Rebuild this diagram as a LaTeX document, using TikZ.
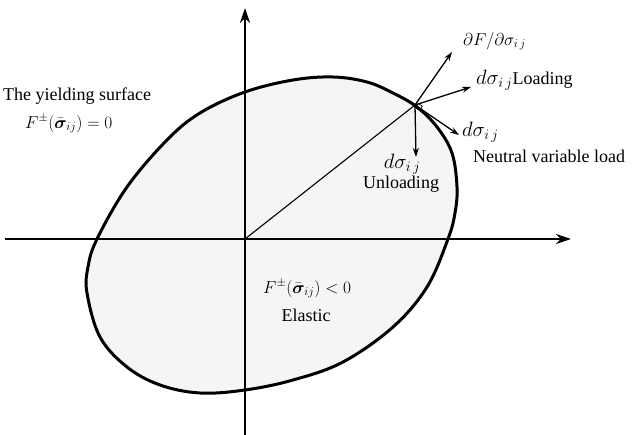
\documentclass[tikz,border=0pt]{standalone}
\usepackage{bm}
\usepackage{fontspec}
\setmainfont{Liberation Serif}
\usetikzlibrary{arrows.meta}
\newcommand\dsigij{{\fontsize{22}{26}\selectfont$d\sigma_{i\,j}$}}
\begin{document}
\begin{tikzpicture}[x=1pt,y=-1pt,
  lbl/.style={inner sep=0pt,font=\fontsize{18}{21}\selectfont},
  axis/.style={line width=1.8pt,-{Stealth[length=15pt,width=10pt]}},
  vec/.style={line width=1.3pt,-{Stealth[length=9pt,width=6pt]}}]
\useasboundingbox (0,0) rectangle (633,435);
% yield surface
\draw[line width=3pt,fill=gray!8] plot[smooth cycle,tension=0.6] coordinates{
 (245,92) (293,80) (333,77) (367,82) (393,93) (417,107) (437,127) (452,153)
 (457,187) (455,213) (448,239) (427,287) (393,327) (343,362) (293,380)
 (245,390) (200,393) (160,385) (127,367) (100,337) (87,293) (88,267)
 (97,239) (127,187) (167,140) (200,113)};
% axes
\coordinate (xl) at (5,239);
\coordinate (xr) at (571,239);
\coordinate (yb) at (245,435);
\coordinate (yt) at (245,8);
\coordinate (O) at (245,239);
\draw[axis] (xl) -- (xr);
\draw[axis] (yb) -- (yt);
% loading point
\coordinate (P) at (415,105);
\draw[line width=1.1pt] (O) -- (P);
\draw[line width=0.7pt,rotate around={-32:(419,107)}] (416.5,104.5) rectangle (421.5,109.5);
\coordinate (tN) at (452,52);
\coordinate (tL) at (471,87);
\coordinate (tV) at (459,135);
\coordinate (tU) at (416,157);
\draw[vec] (P) -- (tN);
\draw[vec] (P) -- (tL);
\draw[vec] (P) -- (tV);
\draw[vec] (P) -- (tU);
% labels
\node[lbl,anchor=west] (lN) at (463,41) {$\partial F/\partial\sigma_{i\,j}$};
\node[lbl,anchor=west] (lL) at (476,80) {\dsigij Loading};
\node[lbl,anchor=west] (lV) at (462,132) {\dsigij};
\node[lbl,anchor=west] (lV2) at (473,156) {Neutral variable load};
\node[lbl] (lU) at (402,164) {\dsigij};
\node[lbl] (lU2) at (401,184) {Unloading};
\node[lbl,anchor=west] (ys) at (3,96) {The yielding surface};
\node[lbl,anchor=west] (ys2) at (25,124) {$F^{\pm}\bigl(\bar{\bm{\sigma}}_{ij}\bigr)=0$};
\node[lbl,anchor=west] (el) at (263,289) {$F^{\pm}\bigl(\bar{\bm{\sigma}}_{ij}\bigr)<0$};
\node[lbl] (el2) at (306,315) {Elastic};
\end{tikzpicture}
\end{document}
